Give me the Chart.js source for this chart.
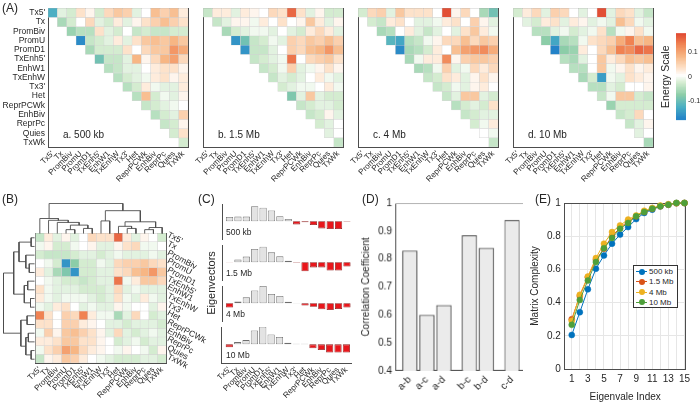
<!DOCTYPE html>
<html>
<head>
<meta charset="utf-8">
<script src="https://cdn.jsdelivr.net/npm/chart.js@4.4.1/dist/chart.umd.min.js"></script>
<style>
  body { margin: 0; width: 700px; height: 406px; overflow: hidden; background: #fff; position: relative;
         font-family: "Liberation Sans", Arial, sans-serif; color: #262626; }
  .w { position: absolute; }
  .t { position: absolute; white-space: nowrap; line-height: 1; z-index: 5; }
</style>
</head>
<body>
<script>
// ---- data ----
const states = ["Tx5'", 'Tx', 'PromBiv', 'PromU', 'PromD1', "TxEnh5'", 'EnhW1', 'TxEnhW', "Tx3'", 'Het', 'ReprPCWk', 'EnhBiv', 'ReprPc', 'Quies', 'TxWk'];

// energies in units of 0.01, upper triangle, each row starts on the diagonal
const energy500kb = [
  [-13, -2, -3, 3, 1, -3, 4, 6, 5, -2, 0, 7, 5, 7, 2],
  [-6, -3, 0, 4, -2, -3, 2, -2, 1, 3, 5, 7, 5, 3],
  [-7, -5, -5, 3, -2, -3, 0, -4, -3, -4, -4, -3, -3],
  [-17, -4, -3, -2, 2, -2, 3, 6, 7, 6, 8, 6],
  [-6, -3, -3, -3, 3, 0, 4, 6, 6, 11, 9],
  [-10, -4, -4, -2, 8, 1, 4, 8, 10, 4],
  [-5, -4, -2, -2, 0, 2, 3, 3, 1],
  [-5, -3, -2, -1, 2, 3, 1, 2],
  [-5, -3, 2, -1, -2, -2, 2],
  [-5, 7, -3, -1, -2, 1],
  [-4, -3, -2, -1, 0],
  [-5, -3, -2, 5],
  [-4, -3, 1],
  [-3, 3],
  [-3]
];
const energy1500kb = [
  [-4, 2, 2, -2, 2, 1, 0, 4, 3, 15, 3, -2, 1, -3, -3],
  [-4, -2, 1, 1, -1, 2, 0, 3, 0, 1, 6, 2, -2, 1],
  [-6, -3, -2, -1, -1, -2, 0, -2, -3, 2, 4, 2, -2],
  [-16, -10, -4, -3, -1, -2, 5, 4, 6, 5, 7, 5],
  [-16, -4, -4, -2, 0, 5, 4, 7, 8, 11, 7],
  [-4, -3, -2, -1, 14, 0, 4, 5, 6, 3],
  [-4, -3, -1, 5, -2, -1, 1, 3, 1],
  [-4, -2, -3, -2, 0, 2, -1, -2],
  [-3, -2, -1, -1, 0, 2, -1],
  [-9, -2, 6, -2, -3, -3],
  [-4, -3, -2, -2, -3],
  [-4, -3, 1, -2],
  [-3, -2, 0],
  [-2, 0],
  [-4]
];
const energy4Mb = [
  [-3, 4, 5, -2, 6, 3, 3, 3, 0, 17, 1, 4, 0, -6, -10],
  [-3, -4, 2, 3, 0, -2, -2, -1, 2, 3, 0, 5, 1, -2],
  [-6, -5, 0, 2, -2, -4, -2, 0, -2, 3, 6, 2, -1],
  [-12, -14, -5, -4, -1, 1, 4, 4, 7, 4, 6, 5],
  [-17, -6, -5, -3, 2, 0, 7, 10, 11, 12, 9],
  [-6, -1, 2, 2, 12, 1, 5, 6, 6, 5],
  [-6, -5, -1, 5, -2, -1, 4, 2, 4],
  [-4, -3, 3, 2, -2, 1, 3, 1],
  [-4, -3, -1, -2, 1, 2, 0],
  [-4, -2, 6, 6, -2, -3],
  [-5, -3, -2, -3, 3],
  [-4, -3, -2, -2],
  [-3, -1, 2],
  [0, -1],
  [-4]
];
const energy10Mb = [
  [-3, 2, 4, -2, 5, 4, 0, -2, 0, 17, -2, 4, 3, -2, -4],
  [-2, -3, 2, 3, -2, 2, 1, -2, -1, -2, 7, 4, -1, -2],
  [-5, -5, -2, -1, -3, -2, -1, 3, -5, -1, 1, 3, -1],
  [-8, -14, -6, -5, -1, 3, 4, 5, 9, 13, 7, 8],
  [-18, -8, -7, 2, 0, 4, 7, 13, 12, 15, 14],
  [-5, -6, -2, 0, 6, 2, 4, 7, 6, 7],
  [-5, -5, 0, 6, -1, 1, 3, 1, 2],
  [-6, -3, -15, -1, -2, 3, 2, 1],
  [-5, -5, -2, -3, 0, 0, 1],
  [-4, -1, 6, 6, -3, -4],
  [-7, -3, -3, -3, -3],
  [-4, -3, 4, 0],
  [-4, -2, 1],
  [-2, 0],
  [-6]
];
// panel B, full matrix (units of 0.01)
const energyClustered = [
  [-4, 2, -2, 1, -2, 0, 4, 3, 3, 15, 2, -2, 1, 0, -3],
  [-1, 1, -3, -3, -1, 0, 1, -2, -2, 1, 3, 4, -1, -1, 0],
  [-3, -4, -4, -4, -3, -2, -2, -3, -2, -1, -2, -2, -2, -1, -2],
  [0, -1, -3, -16, -8, -3, -3, -1, -2, 4, 5, 5, 6, 4, 3],
  [2, -2, -6, -9, -16, -3, -3, -2, -2, 3, 4, 7, 8, 11, 6],
  [0, -1, -2, -3, -3, -4, -3, -2, -2, 14, -1, 2, 6, 6, 4],
  [3, -1, -2, -2, -2, -3, -3, -3, -2, 4, -2, -1, -2, -2, -2],
  [2, -1, -2, -1, -1, -1, -2, -3, -2, 3, -1, -2, 2, -1, -2],
  [-1, -2, 2, 3, 0, -2, -1, -2, -2, 1, -1, 0, 0, -2, 1],
  [13, 3, 0, 5, 4, 13, 2, -1, -1, -6, -2, 4, 0, -3, -2],
  [3, 3, 0, 5, 5, 2, 1, 0, -2, -2, -3, -2, -2, -2, -3],
  [-1, 5, 1, 6, 7, 5, 3, 1, -2, 4, -2, -3, -2, -1, -2],
  [2, 2, 3, 6, 6, 3, 3, 1, 0, -3, -2, -1, -3, -2, -2],
  [-1, 3, 5, 10, 8, 4, 2, 1, 0, -1, 1, 0, -1, -3, 1],
  [-4, 1, 2, 6, 5, 2, 0, -1, -2, -3, -3, -3, -2, -2, -3]
];

const cbarLimit = 0.18;
const cbarTicks = [-0.1, 0, 0.1];

// dendrogram merges: [node a, node b, height]; leaves are 0..14, merged nodes get 15, 16, ...
const colLinkage = [
  [3, 4, 0.13], [5, 6, 0.17], [15, 16, 0.28], [2, 17, 0.37], [1, 18, 0.44], [0, 19, 0.5],
  [7, 8, 0.42], [10, 11, 0.17], [9, 22, 0.24], [12, 13, 0.13], [24, 14, 0.2], [23, 25, 0.39],
  [21, 26, 0.76], [20, 27, 1.0]
];
const rowLinkage = [
  [0, 1, 0.11], [3, 4, 0.17], [2, 16, 0.28], [15, 17, 0.5], [5, 6, 0.22], [7, 8, 0.13],
  [19, 20, 0.33], [18, 21, 0.67], [9, 10, 0.24], [11, 12, 0.2], [13, 14, 0.11], [24, 25, 0.28],
  [23, 26, 0.44], [22, 27, 1.0]
];

const eigen500kb = [0.15, 0.165, 0.165, 0.53, 0.48, 0.38, 0.18, 0.08, -0.11, -0.03, -0.13, -0.25, -0.27, -0.27, -0.02];
const eigen1500kb = [-0.01, 0.095, 0.2, 0.47, 0.55, 0.35, 0.21, 0.05, -0.02, -0.32, -0.18, -0.18, -0.29, -0.29, -0.15];
const eigen4Mb = [-0.15, 0.06, 0.21, 0.45, 0.61, 0.33, 0.26, 0.05, 0.01, -0.08, -0.12, -0.21, -0.24, -0.2, -0.15];
const eigen10Mb = [-0.1, 0.08, 0.15, 0.49, 0.62, 0.35, 0.26, 0.06, 0.02, 0.02, -0.14, -0.2, -0.29, -0.29, -0.29];

const corrPairs = ['a-b', 'a-c', 'a-d', 'b-c', 'b-d', 'c-d'];
const corrValues = [0.83, 0.6, 0.635, 0.885, 0.84, 0.94];

const eigIndex = [1, 2, 3, 4, 5, 6, 7, 8, 9, 10, 11, 12, 13, 14, 15];
const complexity500kb = [0.205, 0.342, 0.48, 0.604, 0.684, 0.755, 0.81, 0.855, 0.903, 0.94, 0.96, 0.98, 0.99, 1, 1];
const complexity1500kb = [0.3, 0.44, 0.553, 0.658, 0.724, 0.8, 0.85, 0.89, 0.92, 0.946, 0.965, 0.98, 0.99, 0.998, 1];
const complexity4Mb = [0.29, 0.447, 0.557, 0.668, 0.755, 0.825, 0.865, 0.9, 0.925, 0.953, 0.97, 0.985, 0.993, 1, 1];
const complexity10Mb = [0.266, 0.416, 0.533, 0.644, 0.728, 0.789, 0.845, 0.88, 0.92, 0.946, 0.966, 0.98, 0.99, 1, 1];

// ---- setup ----
Chart.defaults.font.family = '"Liberation Sans", Arial, sans-serif';
Chart.defaults.color = '#262626';
Chart.defaults.plugins.legend.display = false;
Chart.defaults.plugins.tooltip.enabled = false;

const edge = '#4d4d4d';
const hide = {display: false, drawTicks: false};

// colour map of the energy scale
const cmapStops = [
  [-0.18, [35, 130, 200]], [-0.13, [75, 175, 195]], [-0.08, [140, 205, 168]], [-0.03, [212, 236, 208]],
  [0, [255, 255, 255]], [0.03, [253, 226, 202]], [0.08, [247, 182, 132]], [0.13, [240, 130, 82]], [0.18, [222, 66, 46]]
];
function energyColor(v) {
  v = Math.max(-cbarLimit, Math.min(cbarLimit, v));
  for (let k = 1; k < cmapStops.length; k++) {
    const [v1, c1] = cmapStops[k];
    const [v0, c0] = cmapStops[k - 1];
    if (v <= v1) {
      const f = (v - v0) / (v1 - v0);
      const c = c0.map((x, i) => Math.round(x + (c1[i] - x) * f));
      return 'rgb(' + c.join(',') + ')';
    }
  }
  return 'rgb(222,66,46)';
}

// put a chart so that its plot area lands on box {x, y, w, h}
function makeChart(box, config) {
  const wrap = document.createElement('div');
  wrap.className = 'w';
  wrap.style.width = (box.w + 100) + 'px';
  wrap.style.height = (box.h + 100) + 'px';
  const canvas = document.createElement('canvas');
  wrap.appendChild(canvas);
  document.body.appendChild(wrap);
  config.options = Object.assign({responsive: true, maintainAspectRatio: false, animation: false, events: [], layout: {padding: 0}}, config.options);
  const chart = new Chart(canvas, config);
  for (let k = 0; k < 3; k++) {
    const a = chart.chartArea;
    wrap.style.width = (wrap.offsetWidth + box.w - (a.right - a.left)) + 'px';
    wrap.style.height = (wrap.offsetHeight + box.h - (a.bottom - a.top)) + 'px';
    chart.resize();
  }
  const a = chart.chartArea;
  wrap.style.left = (box.x - a.left) + 'px';
  wrap.style.top = (box.y - a.top) + 'px';
  return chart;
}

// axes that only draw the top and right side of the box
function frame(color) {
  return {
    x2: {type: 'linear', position: 'top', min: 0, max: 1, offset: false, grid: hide, ticks: {display: false}, border: {color: color}},
    y2: {type: 'linear', position: 'right', min: 0, max: 1, grid: hide, ticks: {display: false}, border: {color: color}}
  };
}

function label(text, x, y, size, transform, origin) {
  const d = document.createElement('div');
  d.className = 't';
  d.textContent = text;
  d.style.left = x + 'px';
  d.style.top = y + 'px';
  d.style.fontSize = size + 'px';
  d.style.transform = transform || 'translateY(-50%)';
  if (origin) d.style.transformOrigin = origin;
  document.body.appendChild(d);
  return d;
}

function heatmap(box, rows, showRows) {
  const n = states.length;
  const datasets = rows.map((row, i) => {
    const off = n - row.length;
    return {
      data: states.map((s, j) => (j >= off ? [i, i + 1] : null)),
      backgroundColor: states.map((s, j) => (j >= off ? energyColor(row[j - off] / 100) : 'rgba(0,0,0,0)')),
      borderColor: 'rgba(205,205,205,0.8)',
      borderWidth: 0.5,
      borderSkipped: false,
      grouped: false,
      barPercentage: 1,
      categoryPercentage: 1
    };
  });
  return makeChart(box, {
    type: 'bar',
    data: {labels: states, datasets: datasets},
    options: {
      scales: Object.assign({
        x: {grid: hide, border: {color: edge},
            ticks: {autoSkip: false, minRotation: 45, maxRotation: 45, padding: 2, font: {size: 8}}},
        y: {type: 'linear', min: 0, max: n, reverse: true, grid: hide, border: {color: edge},
            afterBuildTicks: ax => { ax.ticks = states.map((s, i) => ({value: i + 0.5})); },
            ticks: {display: showRows, autoSkip: false, padding: 3, font: {size: 8.5}, callback: (v, i) => states[i]}}
      }, frame(edge))
    }
  });
}

function dendrogram(box, merges, vertical) {
  const pos = states.map((s, i) => i + 0.5);
  const ht = states.map(() => 0);
  const datasets = merges.map(([a, b, h]) => {
    const seg = [[pos[a], ht[a]], [pos[a], h], [pos[b], h], [pos[b], ht[b]]];
    pos.push((pos[a] + pos[b]) / 2);
    ht.push(h);
    return {
      data: seg.map(([p, q]) => (vertical ? {x: p, y: q} : {x: q, y: p})),
      showLine: true, pointRadius: 0, borderColor: '#4d4d4d', borderWidth: 0.9, clip: false
    };
  });
  const n = states.length;
  const scales = vertical
    ? {x: {display: false, min: 0, max: n}, y: {display: false, min: 0, max: 1}}
    : {x: {display: false, min: 0, max: 1, reverse: true}, y: {display: false, min: 0, max: n, reverse: true}};
  return makeChart(box, {type: 'scatter', data: {datasets: datasets}, options: {scales: scales}});
}

function eigenPanel(box, values, name, showX) {
  makeChart(box, {
    type: 'bar',
    data: {datasets: [{
      data: values.map((v, k) => ({x: k + 1, y: v})),
      backgroundColor: values.map(v => (v >= 0 ? '#e3e3e3' : '#e8161b')),
      borderColor: values.map(v => (v >= 0 ? '#6e6e6e' : '#8c1a1a')),
      borderWidth: 0.8,
      borderSkipped: false,
      barPercentage: 0.86,
      categoryPercentage: 1
    }]},
    options: {
      scales: {
        x: {type: 'linear', min: 0.1, max: 15.6, offset: false, grid: hide, border: {color: edge},
            afterBuildTicks: ax => { ax.ticks = states.map((s, k) => ({value: k + 1})); },
            ticks: {display: showX, autoSkip: false, minRotation: 45, maxRotation: 45, padding: 2, font: {size: 8},
                    callback: (v, i) => states[i]}},
        y: {min: -0.66, max: 0.61, grid: hide, ticks: {display: false}, border: {color: edge}}
      }
    }
  });
  label(name, box.x + 4, box.y + 28, 8.5);
}

// ---- (A) ----
label('(A)', 2, 8, 12);
const panelA = [
  [{x: 48, y: 8, w: 140, h: 139}, energy500kb, 'a. 500 kb'],
  [{x: 203, y: 8, w: 140, h: 139}, energy1500kb, 'b. 1.5 Mb'],
  [{x: 358, y: 8, w: 140, h: 139}, energy4Mb, 'c. 4 Mb'],
  [{x: 513, y: 8, w: 140, h: 139}, energy10Mb, 'd. 10 Mb']
];
panelA.forEach(([box, rows, name], k) => {
  heatmap(box, rows, k === 0);
  label(name, box.x + 15, box.y + 127, 10);
});

// colour bar
const cbarSteps = 60;
const cbarStep = 2 * cbarLimit / cbarSteps;
const cbarSets = [];
for (let k = 0; k < cbarSteps; k++) {
  const lo = -cbarLimit + k * cbarStep;
  cbarSets.push({data: [[lo, lo + cbarStep * 1.6]], backgroundColor: energyColor(lo + cbarStep / 2), borderWidth: 0,
                 grouped: false, barPercentage: 1, categoryPercentage: 1});
}
makeChart({x: 676, y: 33, w: 10, h: 87}, {
  type: 'bar',
  data: {labels: [''], datasets: cbarSets},
  options: {
    layout: {padding: {left: 4, right: 4}},
    scales: {
      x: {display: false},
      y: {position: 'right', min: -cbarLimit, max: cbarLimit, grid: hide, border: {display: false},
          afterBuildTicks: ax => { ax.ticks = cbarTicks.map(v => ({value: v})); },
          afterFit: ax => { ax.width = 14; },
          ticks: {padding: 2, font: {size: 7}, callback: v => String(v)}},
      yT: {position: 'left', grid: hide, border: {display: false}, ticks: {display: false},
           afterFit: ax => { ax.width = 16; },
           title: {display: true, text: 'Energy Scale', font: {size: 10.5}, padding: {top: 0, bottom: 4}}}
    }
  }
});

// ---- (B) ----
label('(B)', 2, 199, 12);
const boxB = {x: 35, y: 233, w: 131, h: 130};
heatmap(boxB, energyClustered, false);
dendrogram({x: boxB.x, y: 203, w: boxB.w, h: 30}, colLinkage, true);
dendrogram({x: 3, y: boxB.y, w: 31, h: boxB.h}, rowLinkage, false);
states.forEach((s, i) => {
  label(s, 168, boxB.y + (i + 0.5) * boxB.h / states.length - 3, 8.5, 'translateY(-50%) rotate(28deg)', 'left center');
});

// ---- (C) ----
label('(C)', 198, 199, 12);
eigenPanel({x: 222, y: 204, w: 130, h: 36}, eigen500kb, '500 kb', false);
eigenPanel({x: 222, y: 245, w: 130, h: 36}, eigen1500kb, '1.5 Mb', false);
eigenPanel({x: 222, y: 286, w: 130, h: 36}, eigen4Mb, '4 Mb', false);
eigenPanel({x: 222, y: 327, w: 130, h: 36}, eigen10Mb, '10 Mb', true);
label('Eigenvectors', 211, 283, 11, 'translate(-50%,-50%) rotate(-90deg)');

// ---- (D) ----
label('(D)', 362, 199, 12);
const corrPos = corrPairs.map((p, i) => i + 1 + 0.5 * 'abc'.indexOf(p[0]));
makeChart({x: 396, y: 203, w: 127, h: 167}, {
  type: 'bar',
  data: {datasets: [{
    data: corrValues.map((v, i) => ({x: corrPos[i], y: v})),
    backgroundColor: '#ebebeb', borderColor: '#555', borderWidth: 1.2,
    barPercentage: 0.9, categoryPercentage: 1
  }]},
  options: {
    scales: Object.assign({
      x: {type: 'linear', min: 0.2, max: 7.7, offset: false, grid: hide, border: {color: edge},
          afterBuildTicks: ax => { ax.ticks = corrPos.map(v => ({value: v})); },
          ticks: {autoSkip: false, minRotation: 45, maxRotation: 45, padding: 3, font: {size: 10},
                  callback: (v, i) => corrPairs[i]}},
      y: {min: 0.4, max: 1, grid: hide, border: {color: edge},
          ticks: {stepSize: 0.1, padding: 4, font: {size: 10}, callback: v => (v === 1 ? '1' : v.toFixed(1))},
          title: {display: true, text: 'Correlation Coefficient', font: {size: 10}, padding: {top: 0, bottom: 2}}}
    }, frame('#b3b3b3'))
  }
});

// ---- (E) ----
label('(E)', 535, 199, 12);
const series = [
  ['500 kb', complexity500kb, '#0072BD'],
  ['1.5 Mb', complexity1500kb, '#D95319'],
  ['4 Mb', complexity4Mb, '#EDB120'],
  ['10 Mb', complexity10Mb, '#4e9f3a']
];
makeChart({x: 565, y: 203, w: 121, h: 166}, {
  type: 'line',
  data: {datasets: series.map(([name, vals, color], k) => ({
    label: name,
    data: vals.map((v, i) => ({x: eigIndex[i], y: v})),
    borderColor: color, backgroundColor: color, borderWidth: 1,
    pointRadius: 3, pointBorderWidth: 0.5, clip: false, order: series.length - k
  }))},
  options: {
    scales: Object.assign({
      x: {type: 'linear', min: 0.15, max: 15.12, grid: {color: '#e6e6e6', drawTicks: false}, border: {color: edge},
          afterBuildTicks: ax => { ax.ticks = eigIndex.map(v => ({value: v})); },
          ticks: {autoSkip: false, maxRotation: 0, padding: 4, font: {size: 10}, callback: (v, i) => (eigIndex[i] % 2 ? eigIndex[i] : '')},
          title: {display: true, text: 'Eigenvale Index', font: {size: 10}, padding: {top: 2, bottom: 0}}},
      y: {min: 0, max: 1, grid: {color: '#e6e6e6', drawTicks: false}, border: {color: edge},
          ticks: {stepSize: 0.2, padding: 4, font: {size: 10}, callback: v => (v === 0 || v === 1 ? String(v) : v.toFixed(1))},
          title: {display: true, text: 'Matrix Complexity', font: {size: 10}, padding: {top: 0, bottom: 2}}}
    }, frame(edge))
  }
});

// legend of (E)
const legendBox = document.createElement('div');
Object.assign(legendBox.style, {position: 'absolute', left: '633px', top: '265px', width: '43px', height: '41px',
  border: '1px solid #333', background: '#fff', zIndex: 4});
document.body.appendChild(legendBox);
series.forEach(([name, vals, color], k) => {
  const y = 10.3 * k + 5.5;
  const line = document.createElement('div');
  Object.assign(line.style, {position: 'absolute', left: '2px', top: (y - 0.5) + 'px', width: '11px', height: '1px', background: color});
  const dot = document.createElement('div');
  Object.assign(dot.style, {position: 'absolute', left: '4.5px', top: (y - 3) + 'px', width: '6px', height: '6px', borderRadius: '50%', background: color});
  const txt = document.createElement('div');
  Object.assign(txt.style, {position: 'absolute', left: '15px', top: (y - 4.5) + 'px', fontSize: '8px', lineHeight: '9px', whiteSpace: 'nowrap'});
  txt.textContent = name;
  legendBox.appendChild(line);
  legendBox.appendChild(dot);
  legendBox.appendChild(txt);
});
</script>
</body>
</html>
